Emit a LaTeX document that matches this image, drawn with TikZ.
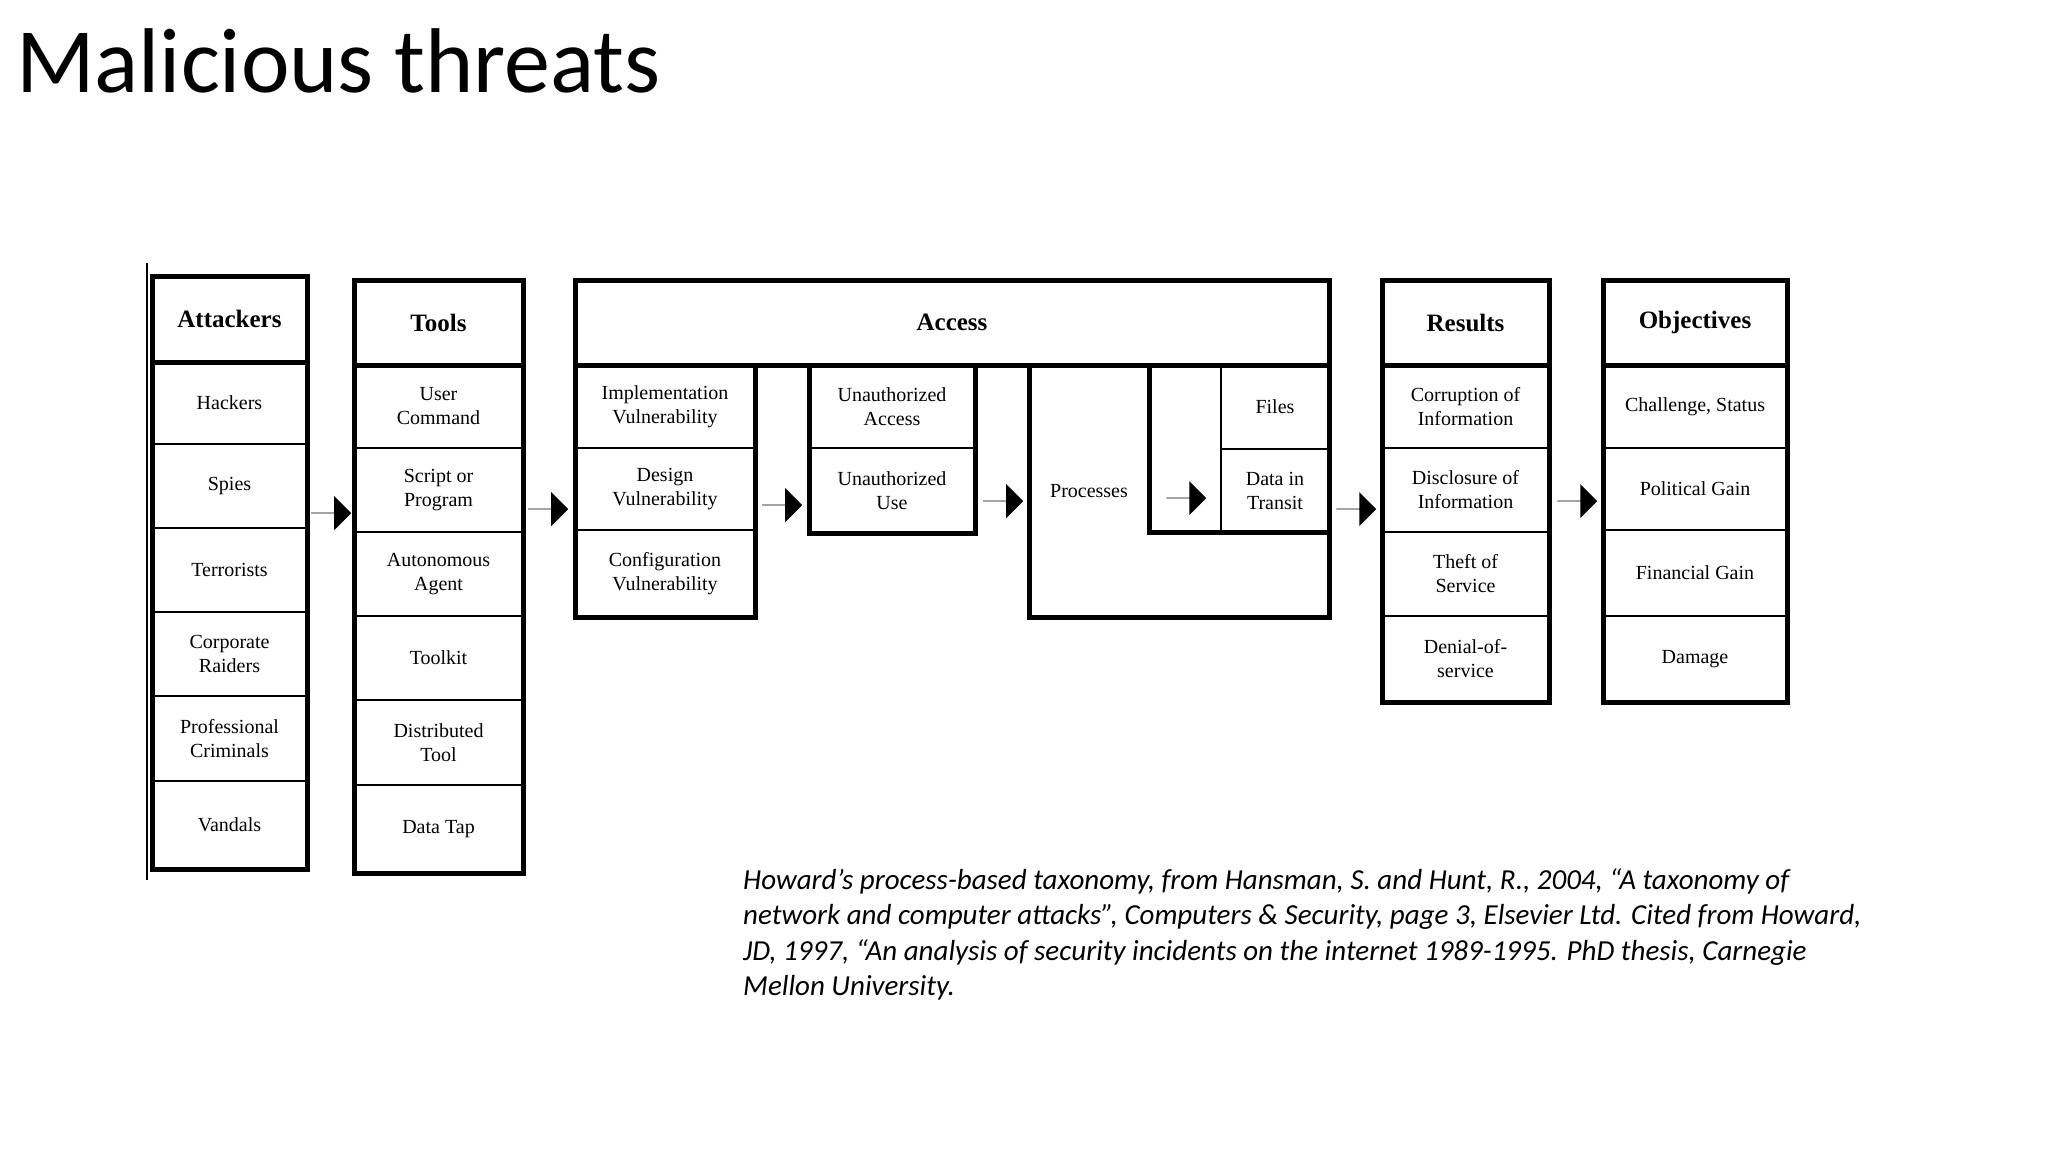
\documentclass[tikz,border=0pt]{standalone}
\usepackage{fontspec}
\setmainfont{Liberation Serif}
\newfontfamily\carl{Carlito}
\usetikzlibrary{shapes.arrows}
\newcommand\cellbox[6]{\node[cell,minimum width={(#4-#2)*1pt},minimum height={(#5-#3)*1pt}] (#1) at ({(#2+#4)/2},{(#3+#5)/2}) {#6};}
\tikzset{
  cell/.style={draw,line width=1.8pt,inner sep=0pt,align=center,font=\fontsize{20}{24}\selectfont},
  frame/.style={draw,line width=5pt},
  blk/.style={single arrow,fill=black,draw=none,minimum height=40pt,single arrow head extend=7pt,inner sep=0pt,minimum width=34pt,single arrow tip angle=90}
}
\begin{document}
\begin{tikzpicture}[x=1pt,y=-1pt]
\useasboundingbox (0,0) rectangle (2048,1152);
\node[anchor=base west,font=\carl\fontsize{92}{96}\selectfont,inner sep=0pt] (title) at (16,92) {Malicious threats};
% left thin line
\coordinate (l1) at (147,263); \coordinate (l2) at (147,880);
\draw[line width=1.5pt] (l1) -- (l2);
% Attackers
\cellbox{a0}{152}{276}{307}{362}{\textbf{\fontsize{25}{28}\selectfont Attackers}}
\cellbox{a1}{152}{362}{307}{444}{Hackers}
\cellbox{a2}{152}{444}{307}{528}{Spies}
\cellbox{a3}{152}{528}{307}{612}{Terrorists}
\cellbox{a4}{152}{612}{307}{696}{Corporate\\Raiders}
\cellbox{a5}{152}{696}{307}{781}{Professional\\Criminals}
\cellbox{a6}{152}{781}{307}{869}{Vandals}
\draw[frame] (152,276) rectangle (307,869);
\draw[frame] (152,362) -- (307,362);
% Tools
\cellbox{t0}{354}{280}{523}{365}{\textbf{\fontsize{25}{28}\selectfont Tools}}
\cellbox{t1}{354}{365}{523}{448}{User\\Command}
\cellbox{t2}{354}{448}{523}{532}{Script or\\Program}
\cellbox{t3}{354}{532}{523}{616}{Autonomous\\Agent}
\cellbox{t4}{354}{616}{523}{700}{Toolkit}
\cellbox{t5}{354}{700}{523}{785}{Distributed\\Tool}
\cellbox{t6}{354}{785}{523}{873}{Data Tap}
\draw[frame] (354,280) rectangle (523,873);
\draw[frame] (354,365) -- (523,365);
% Access
\cellbox{ac}{575}{280}{1329}{365}{\textbf{\fontsize{25}{28}\selectfont Access}}
\cellbox{v1}{575}{365}{755}{448}{Implementation\\Vulnerability}
\cellbox{v2}{575}{448}{755}{530}{Design\\Vulnerability}
\cellbox{v3}{575}{530}{755}{617}{Configuration\\Vulnerability}
\cellbox{u1}{809}{365}{975}{448}{Unauthorized\\Access}
\cellbox{u2}{809}{448}{975}{533}{Unauthorized\\Use}
\node[font=\fontsize{20}{24}\selectfont] (pr) at (1089,491) {Processes};
\cellbox{f1}{1221}{365}{1329}{449}{Files}
\cellbox{f2}{1221}{449}{1329}{532}{Data in\\Transit}
\draw[frame] (575,280) rectangle (1329,365);
\draw[frame] (575,365) rectangle (755,617);
\draw[frame] (809,365) rectangle (975,533);
\draw[frame] (1029,365) rectangle (1329,617);
\draw[frame] (1149,365) rectangle (1329,532);
% Results
\cellbox{r0}{1382}{280}{1549}{365}{\textbf{\fontsize{25}{28}\selectfont Results}}
\cellbox{r1}{1382}{365}{1549}{448}{Corruption of\\Information}
\cellbox{r2}{1382}{448}{1549}{532}{Disclosure of\\Information}
\cellbox{r3}{1382}{532}{1549}{616}{Theft of\\Service}
\cellbox{r4}{1382}{616}{1549}{702}{Denial-of-\\service}
\draw[frame] (1382,280) rectangle (1549,702);
\draw[frame] (1382,365) -- (1549,365);
% Objectives
\cellbox{o0}{1603}{280}{1787}{365}{\textbf{\fontsize{25}{28}\selectfont Objectives}}
\cellbox{o1}{1603}{365}{1787}{448}{Challenge, Status}
\cellbox{o2}{1603}{448}{1787}{530}{Political Gain}
\cellbox{o3}{1603}{530}{1787}{616}{Financial Gain}
\cellbox{o4}{1603}{616}{1787}{702}{Damage}
\draw[frame] (1603,280) rectangle (1787,702);
\draw[frame] (1603,365) -- (1787,365);
% block arrows
\node[blk] (b1) at (331,513) {};
\node[blk] (b2) at (548,509) {};
\node[blk] (b3) at (782,505) {};
\node[blk] (b4) at (1003,501) {};
\node[blk] (b5) at (1186,498) {};
\node[blk] (b6) at (1356,509) {};
\node[blk] (b7) at (1577,501) {};
% caption
\node[anchor=north west,align=left,inner sep=0pt,font=\carl\itshape\fontsize{29}{35.5}\selectfont] (cap) at (743,868) {Howard’s process-based taxonomy, from Hansman, S. and Hunt, R., 2004, “A taxonomy of\\network and computer attacks”, Computers \& Security, page 3, Elsevier Ltd. Cited from Howard,\\JD, 1997, “An analysis of security incidents on the internet 1989-1995. PhD thesis, Carnegie\\Mellon University.};
\end{tikzpicture}
\end{document}
